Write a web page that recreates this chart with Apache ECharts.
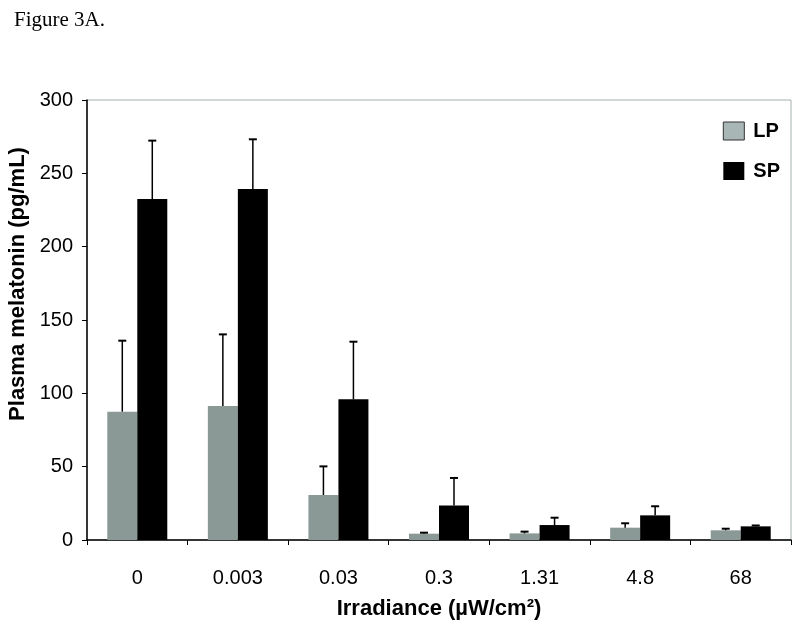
<!DOCTYPE html>
<html><head><meta charset="utf-8">
<script src="https://cdn.jsdelivr.net/npm/echarts@6/dist/echarts.min.js"></script>
<style>html,body{margin:0;padding:0;background:#fff}#c{width:800px;height:627px}</style>
</head><body><div id="c"></div>
<script>
const categories = ['0','0.003','0.03','0.3','1.31','4.8','68'];
const lpValues = [87.5, 91.4, 30.7, 4.3, 4.5, 8.4, 6.6];
const lpErrTop = [135.9, 140.2, 50.2, 5.0, 5.7, 11.4, 7.7];
const spValues = [232.5, 239.3, 95.9, 23.6, 10.2, 16.8, 9.3];
const spErrTop = [272.3, 273.2, 135.2, 42.3, 15.2, 23.0, 9.9];
const yTicks = [0, 50, 100, 150, 200, 250, 300];

const LP_COLOR = '#8a9896';
const BAR_W = 30;

function errSeries(name, tops, vals, offset) {
  return {
    type: 'custom', name: name + ' err', silent: true, z: 5,
    data: tops.map((t, i) => [i, vals[i], t]),
    renderItem: function (params, api) {
      const base = api.coord([api.value(0), api.value(1)]);
      const top = api.coord([api.value(0), api.value(2)]);
      const x = base[0] + offset;
      return {
        type: 'group', children: [
          { type: 'line', shape: { x1: x, y1: base[1], x2: x, y2: top[1] }, style: { stroke: '#000', lineWidth: 1.5 } },
          { type: 'line', shape: { x1: x - 4, y1: top[1], x2: x + 4, y2: top[1] }, style: { stroke: '#000', lineWidth: 2 } }
        ]
      };
    }
  };
}

const chart = echarts.init(document.getElementById('c'));
chart.setOption({
  animation: false,
  backgroundColor: '#fff',
  title: { text: 'Figure 3A.', left: 9, top: 5, textStyle: { fontFamily: 'Liberation Serif', fontSize: 21, fontWeight: 'normal', color: '#000' } },
  grid: { left: 87, right: 9, top: 100, bottom: 87, show: true, borderColor: '#a4b0b0', borderWidth: 1, outerBoundsMode: 'none', containLabel: false },
  legend: {
    orient: 'vertical', right: 15, top: 116, itemWidth: 21, itemHeight: 18, itemGap: 20, icon: 'rect',
    data: [
      { name: 'LP', itemStyle: { color: '#a9b6b6', borderColor: '#333', borderWidth: 1 } },
      { name: 'SP', itemStyle: { color: '#000' } }
    ],
    textStyle: { fontFamily: 'Liberation Sans', fontSize: 20, fontWeight: 'bold', color: '#000', padding: [0, 0, 0, 4] }
  },
  xAxis: {
    type: 'category', data: categories,
    name: 'Irradiance (µW/cm²)', nameLocation: 'middle', nameGap: 58,
    nameTextStyle: { fontFamily: 'Liberation Sans', fontSize: 22, fontWeight: 'bold', color: '#000' },
    axisLine: { lineStyle: { color: '#000', width: 1.5 } },
    axisTick: { show: true, length: 5, lineStyle: { color: '#000' } },
    axisLabel: { fontFamily: 'Liberation Sans', fontSize: 20, color: '#000', margin: 28 }
  },
  yAxis: {
    type: 'value', min: 0, max: 300, interval: 50,
    name: 'Plasma melatonin (pg/mL)', nameLocation: 'middle', nameGap: 57,
    nameTextStyle: { fontFamily: 'Liberation Sans', fontSize: 22, fontWeight: 'bold', color: '#000', padding: [0, 0, 0, 72] },
    axisLine: { show: true, lineStyle: { color: '#000', width: 1.5 } },
    axisTick: { show: true, length: 5, lineStyle: { color: '#000' } },
    splitLine: { show: false },
    axisLabel: { fontFamily: 'Liberation Sans', fontSize: 20, color: '#000', margin: 14,
      formatter: v => yTicks.includes(v) ? String(v) : '' }
  },
  series: [
    { name: 'LP', type: 'bar', data: lpValues, barWidth: BAR_W, barGap: '0%', itemStyle: { color: LP_COLOR } },
    { name: 'SP', type: 'bar', data: spValues, barWidth: BAR_W, barGap: '0%', itemStyle: { color: '#000' } },
    errSeries('LP', lpErrTop, lpValues, -15),
    errSeries('SP', spErrTop, spValues, 15)
  ]
});
</script></body></html>
